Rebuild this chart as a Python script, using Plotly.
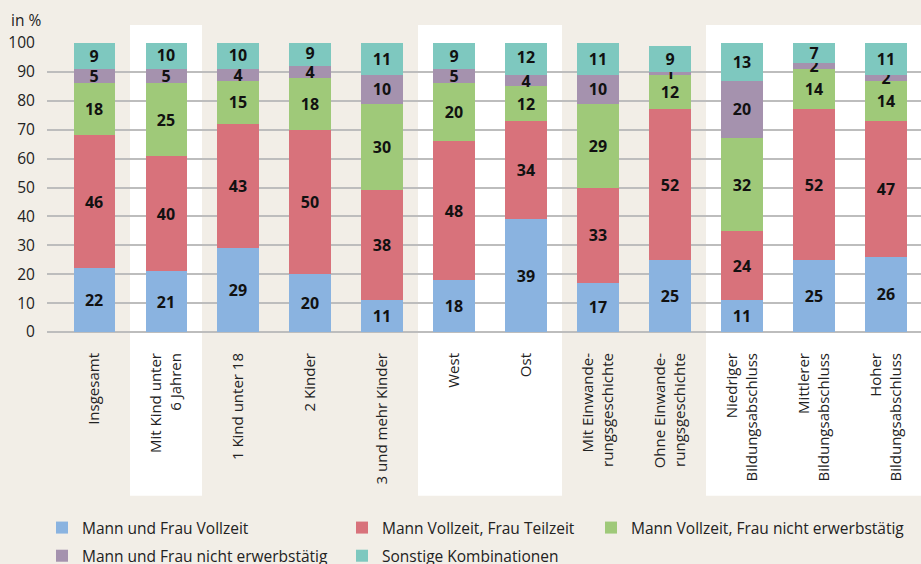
import plotly.graph_objects as go

categories = ["Insgesamt", "Mit Kind unter<br>6 Jahren", "1 Kind unter 18", "2 Kinder",
              "3 und mehr Kinder", "West", "Ost", "Mit Einwande-<br>rungsgeschichte",
              "Ohne Einwande-<br>rungsgeschichte", "Niedriger<br>Bildungsabschluss",
              "Mittlerer<br>Bildungsabschluss", "Hoher<br>Bildungsabschluss"]

beide_vollzeit = [22, 21, 29, 20, 11, 18, 39, 17, 25, 11, 25, 26]
mann_voll_frau_teil = [46, 40, 43, 50, 38, 48, 34, 33, 52, 24, 52, 47]
mann_voll_frau_nicht = [18, 25, 15, 18, 30, 20, 12, 29, 12, 32, 14, 14]
beide_nicht = [5, 5, 4, 4, 10, 5, 4, 10, 1, 20, 2, 2]
sonstige = [9, 10, 10, 9, 11, 9, 12, 11, 9, 13, 7, 11]

series = [
    ("Mann und Frau Vollzeit", beide_vollzeit, "#8AB3E0", "legend"),
    ("Mann Vollzeit, Frau Teilzeit", mann_voll_frau_teil, "#D8727B", "legend2"),
    ("Mann Vollzeit, Frau nicht erwerbstätig", mann_voll_frau_nicht, "#9FC979", "legend3"),
    ("Mann und Frau nicht erwerbstätig", beide_nicht, "#A592AE", "legend"),
    ("Sonstige Kombinationen", sonstige, "#7EC8BF", "legend2"),
]

FONT = "Open Sans"
BG = "#F2EEE7"
x = list(range(len(categories)))

fig = go.Figure()
for name, vals, color, lg in series:
    fig.add_trace(go.Bar(
        x=x, y=vals, name=name, marker=dict(color=color, line=dict(width=0)),
        width=0.57, text=vals, textposition="inside", insidetextanchor="middle",
        textangle=0,
        textfont=dict(family=FONT, size=16, color="#111111", weight="bold"),
        legend=lg, legendgroup=name, hoverinfo="skip",
    ))

shapes = []
for a, b in [(0.5, 1.5), (4.5, 6.5), (8.5, 11.5)]:
    shapes.append(dict(type="rect", xref="x", yref="paper", x0=a, x1=b,
                       y0=-0.567, y1=1.062, fillcolor="white", line=dict(width=0),
                       layer="below"))

legend_common = dict(xref="paper", yref="paper", xanchor="left", yanchor="top",
                     orientation="v", tracegroupgap=5, bgcolor="rgba(0,0,0,0)",
                     font=dict(family=FONT, size=15.5, color="#222222"))

def px(xp):
    return (xp - 47) / 874

def py(yp):
    return (332 - yp) / 289

fig.update_layout(
    width=921, height=564,
    barmode="stack",
    paper_bgcolor=BG, plot_bgcolor="rgba(0,0,0,0)",
    margin=dict(l=47, r=0, t=43, b=232, autoexpand=False),
    font=dict(family=FONT, size=15, color="#222222"),
    uniformtext=dict(mode="show", minsize=16),
    shapes=shapes,
    xaxis=dict(tickvals=x, ticktext=categories, range=[-0.653, 11.486], automargin=False,
               tickangle=-90, showgrid=False, zeroline=False, showline=False,
               ticks="outside", ticklen=14, tickcolor="rgba(0,0,0,0)",
               tickfont=dict(family=FONT, size=15, color="#222222")),
    yaxis=dict(range=[0, 100], dtick=10, showgrid=True, gridcolor="#BDBDBD", automargin=False,
               gridwidth=1.5, zeroline=True, zerolinecolor="#BDBDBD", zerolinewidth=1.5,
               ticks="outside", ticklen=8, tickcolor="rgba(0,0,0,0)",
               tickfont=dict(family=FONT, size=15.5, color="#222222")),
    legend=dict(legend_common, x=px(42), y=py(511)),
    legend2=dict(legend_common, x=px(342), y=py(511)),
    legend3=dict(legend_common, x=px(591), y=py(511)),
    annotations=[dict(text="in %", xref="paper", yref="paper", x=px(9),
                      y=py(20), xanchor="left", yanchor="middle", showarrow=False,
                      font=dict(family=FONT, size=15.5, color="#222222"))],
)

fig.write_html("out.html", config={"displayModeBar": False},
               post_script="document.body.style.margin='0px';")
